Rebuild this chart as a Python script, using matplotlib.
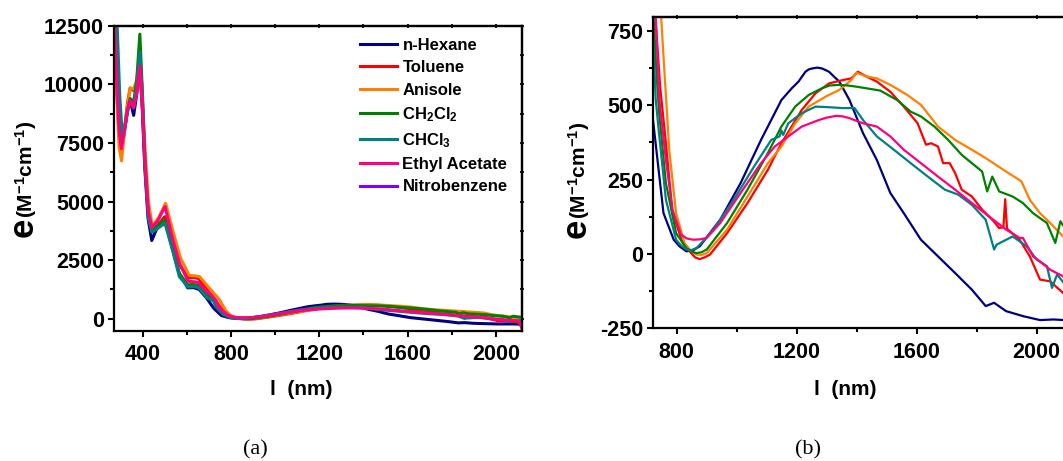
import matplotlib
matplotlib.use('Agg')
import matplotlib.pyplot as plt
from matplotlib.ticker import MultipleLocator

plt.rcParams['font.family'] = ['Liberation Sans', 'DejaVu Sans']
plt.rcParams['font.weight'] = 'bold'
plt.rcParams['mathtext.fontset'] = 'custom'
plt.rcParams['mathtext.rm'] = 'Liberation Sans:bold'
plt.rcParams['mathtext.bf'] = 'Liberation Sans:bold'
plt.rcParams['mathtext.it'] = 'Liberation Sans:bold'
plt.rcParams['mathtext.default'] = 'rm'
plt.rcParams['axes.unicode_minus'] = False

# ---------------- data (wavelength nm, epsilon M^-1 cm^-1) ----------------
wl_hexane = [267, 272, 281, 292, 302, 315, 330, 342, 358, 372,
             384, 395, 408, 423, 440, 465, 498, 533, 564, 603,
             630, 655, 689, 721, 756, 790, 809, 832, 854, 877,
             945, 1013, 1081, 1149, 1183, 1206, 1229, 1240, 1251, 1268,
             1285, 1308, 1319, 1342, 1376, 1421, 1467, 1512, 1557, 1614,
             1671, 1728, 1784, 1830, 1858, 1898, 1955, 2011, 2056, 2090,
             2120]
eps_hexane = [14000, 12600, 10000, 7800, 7120, 7900, 8900, 9320, 8680, 9600,
              11000, 9400, 6500, 4300, 3340, 3900, 4330, 3090, 1950, 1320,
              1330, 1250, 880, 450, 137, 48, 26, 9, 12, 26,
              115, 238, 383, 517, 556, 579, 612, 620, 623, 626,
              623, 612, 601, 579, 517, 406, 316, 205, 137, 48,
              -8, -64, -120, -175, -164, -192, -209, -222, -220, -222,
              -240]

wl_toluene = [267, 272, 281, 292, 302, 315, 330, 342, 358, 372,
              386, 396, 409, 424, 441, 467, 500, 536, 567, 606,
              633, 652, 690, 710, 730, 745, 764, 786, 820, 848,
              862, 877, 892, 911, 968, 1036, 1104, 1149, 1183, 1217,
              1263, 1308, 1353, 1382, 1404, 1433, 1467, 1512, 1557, 1603,
              1631, 1648, 1671, 1688, 1710, 1728, 1750, 1784, 1818, 1852,
              1875, 1889, 1895, 1901, 1943, 1977, 2011, 2045, 2088, 2120]
eps_toluene = [14200, 12600, 10100, 7900, 7050, 8000, 9200, 9850, 9740, 10000,
               10600, 9300, 6800, 4700, 3800, 4000, 4360, 3300, 2300, 1740,
               1760, 1720, 1250, 1000, 780, 560, 372, 137, 37, 3,
               -12, -17, -12, -2, 70, 171, 283, 372, 428, 484,
               540, 573, 584, 590, 612, 596, 579, 545, 495, 439,
               367, 372, 361, 305, 305, 272, 216, 193, 149, 115,
               87, 90, 184, 85, 48, -8, -86, -92, -131, -160]

wl_anisole = [267, 272, 281, 292, 303, 315, 330, 342, 358, 372,
              386, 396, 410, 425, 442, 470, 503, 540, 570, 610,
              635, 657, 697, 730, 748, 758, 766, 775, 798, 826,
              846, 866, 883, 900, 968, 1036, 1104, 1149, 1195, 1240,
              1297, 1342, 1382, 1399, 1433, 1467, 1512, 1569, 1614, 1671,
              1728, 1784, 1830, 1898, 1949, 1977, 2011, 2045, 2088, 2120]
eps_anisole = [14000, 12300, 9600, 7300, 6740, 7900, 9100, 9850, 9800, 10200,
               11440, 9700, 7200, 5000, 3950, 4300, 4930, 3600, 2600, 1850,
               1830, 1800, 1350, 1000, 800, 629, 500, 350, 137, 37,
               12, -2, -3, 3, 82, 193, 305, 361, 439, 495,
               529, 551, 584, 609, 596, 590, 568, 534, 501, 428,
               383, 350, 322, 277, 244, 182, 137, 104, 59, 30]

wl_ch2cl2 = [267, 272, 281, 292, 303, 315, 330, 342, 358, 372,
             386, 396, 409, 424, 441, 466, 498, 533, 564, 603,
             630, 652, 690, 710, 724, 733, 741, 764, 798, 832,
             849, 866, 883, 900, 968, 1036, 1104, 1149, 1195, 1240,
             1285, 1310, 1342, 1370, 1399, 1478, 1535, 1580, 1614, 1659,
             1705, 1750, 1784, 1818, 1835, 1852, 1875, 1920, 1954, 1988,
             2034, 2062, 2079, 2090, 2120]
eps_ch2cl2 = [14500, 12900, 10500, 8300, 7600, 8000, 8900, 9400, 9250, 10200,
              12150, 10000, 6600, 4400, 3700, 3950, 4220, 3000, 1950, 1450,
              1460, 1420, 1050, 880, 780, 600, 480, 238, 70, 20,
              8, 3, 6, 15, 104, 216, 339, 428, 495, 534,
              557, 566, 568, 566, 562, 549, 517, 478, 462, 428,
              383, 333, 305, 277, 210, 260, 210, 193, 171, 137,
              104, 37, 110, 93, 60]

wl_chcl3 = [267, 276, 284, 295, 306, 318, 330, 342, 358, 372,
            386, 396, 410, 425, 441, 466, 500, 535, 565, 605,
            632, 652, 690, 720, 730, 741, 764, 798, 815, 832,
            849, 866, 890, 922, 990, 1058, 1115, 1143, 1149, 1155,
            1172, 1217, 1263, 1308, 1353, 1393, 1421, 1467, 1524, 1580,
            1637, 1694, 1739, 1784, 1830, 1858, 1866, 1920, 1966, 2000,
            2034, 2051, 2068, 2090, 2120]
eps_chcl3 = [16000, 14000, 12300, 9500, 7900, 8200, 8800, 9300, 9000, 10000,
             11370, 9800, 6600, 4300, 3700, 3850, 4080, 2900, 1800, 1350,
             1370, 1330, 900, 760, 520, 406, 182, 48, 28, 15,
             13, 20, 45, 82, 182, 294, 383, 395, 415, 400,
             439, 473, 495, 493, 490, 490, 450, 395, 350, 305,
             260, 216, 199, 165, 115, 15, 31, 59, 26, -19,
             -41, -114, -69, -97, -60]

wl_etac = [267, 272, 281, 292, 302, 315, 330, 342, 358, 372,
           386, 396, 409, 424, 441, 468, 500, 535, 566, 605,
           632, 652, 690, 712, 730, 742, 764, 786, 814, 834,
           854, 877, 900, 945, 1013, 1081, 1127, 1172, 1217, 1274,
           1300, 1331, 1355, 1376, 1421, 1467, 1512, 1557, 1614, 1671,
           1728, 1784, 1841, 1898, 1943, 1954, 1988, 2011, 2045, 2088,
           2105, 2120]
eps_etac = [14200, 12700, 10200, 8000, 7260, 8000, 8900, 9320, 9000, 9600,
            10800, 9400, 6700, 4600, 3900, 4200, 4790, 3400, 2350, 1600,
            1580, 1540, 1150, 1000, 800, 520, 316, 149, 65, 52,
            48, 49, 54, 104, 205, 305, 361, 395, 428, 450,
            458, 464, 462, 456, 439, 428, 395, 350, 305, 260,
            216, 171, 126, 82, 54, 54, -8, -25, -53, -75,
            -110, -450]

wl_nitro = []
eps_nitro = []

solvents = ['n-Hexane', 'Toluene', 'Anisole', 'CH$_2$Cl$_2$', 'CHCl$_3$',
            'Ethyl Acetate', 'Nitrobenzene']
colors = ['#000080', '#FF0000', '#FF8000', '#008000', '#008080',
          '#FF0080', '#8000FF']
wls = [wl_hexane, wl_toluene, wl_anisole, wl_ch2cl2, wl_chcl3, wl_etac, wl_nitro]
epss = [eps_hexane, eps_toluene, eps_anisole, eps_ch2cl2, eps_chcl3, eps_etac, eps_nitro]

# ---------------- figure ----------------
W, H = 1063, 461
fig = plt.figure(figsize=(W / 100, H / 100), dpi=100)

def px_axes(x0, y0, x1, y1):
    return [x0 / W, 1 - y1 / H, (x1 - x0) / W, (y1 - y0) / H]

axA = fig.add_axes(px_axes(113.6, 25.9, 522.3, 330.5))
axB = fig.add_axes(px_axes(652.7, 17.3, 1072.7, 328.4))

handles = []
for name, c, x, y in zip(solvents, colors, wls, epss):
    h, = axA.plot(x, y, color=c, lw=2.2, label=name, solid_joinstyle='round')
    handles.append(h)
    axB.plot(x, y, color=c, lw=1.6, solid_joinstyle='round')

axA.set_xlim(267, 2120)
axA.set_ylim(-500, 12500)
axA.xaxis.set_major_locator(MultipleLocator(400))
axA.xaxis.set_minor_locator(MultipleLocator(200))
axA.yaxis.set_major_locator(MultipleLocator(2500))
axA.yaxis.set_minor_locator(MultipleLocator(1250))

axB.set_xlim(720, 2120)
axB.set_ylim(-250, 795)
axB.xaxis.set_major_locator(MultipleLocator(400))
axB.xaxis.set_minor_locator(MultipleLocator(200))
axB.yaxis.set_major_locator(MultipleLocator(250))
axB.yaxis.set_minor_locator(MultipleLocator(125))

for ax in (axA, axB):
    for s in ax.spines.values():
        s.set_linewidth(1.6)
    ax.tick_params(axis='both', which='major', direction='out', length=4.5,
                   width=1.5, labelsize=15.5, pad=2.5)
    ax.tick_params(axis='both', which='minor', direction='out', length=3,
                   width=1.5)
    ax.tick_params(axis='x', which='major', pad=5)
    sx = ax.secondary_xaxis('top')
    sy = ax.secondary_yaxis('right')
    for sec, loc in ((sx, 'top'), (sy, 'right')):
        sec.tick_params(which='both', direction='inout', length=2.5, width=1.2,
                        labeltop=False, labelright=False, labelbottom=False,
                        labelleft=False)
        sec.spines[loc].set_linewidth(1.6)
    sx.xaxis.set_major_locator(ax.xaxis.get_major_locator())
    sx.xaxis.set_minor_locator(ax.xaxis.get_minor_locator())
    sy.yaxis.set_major_locator(ax.yaxis.get_major_locator())
    sy.yaxis.set_minor_locator(ax.yaxis.get_minor_locator())

axA.legend(handles, solvents, loc='upper left',
           bbox_to_anchor=(360 / W, 1 - 38 / H), bbox_transform=fig.transFigure,
           frameon=False, fontsize=12, handlelength=2.2, handletextpad=0.35,
           labelspacing=0.44, borderpad=0, borderaxespad=0)

# axis labels
def ylab(xb, ybottom):
    fig.text(xb / W, 1 - ybottom / H, 'e', fontsize=25, rotation=90,
             rotation_mode='anchor', ha='left', va='baseline')
    fig.text(xb / W, 1 - (ybottom - 19.5) / H, '(M$^{-1}$cm$^{-1}$)', fontsize=15,
             rotation=90, rotation_mode='anchor', ha='left', va='baseline')

ylab(33, 237)
ylab(586, 238)

fig.text(301 / W, 1 - 389 / H, 'l  (nm)', fontsize=15, ha='center', va='center')
fig.text(845 / W, 1 - 389 / H, 'l  (nm)', fontsize=15, ha='center', va='center')

fig.text(255 / W, 1 - 450 / H, '(a)', family=['Liberation Serif', 'DejaVu Serif'],
         weight='normal', fontsize=16, ha='center', va='center')
fig.text(808 / W, 1 - 450 / H, '(b)', family=['Liberation Serif', 'DejaVu Serif'],
         weight='normal', fontsize=16, ha='center', va='center')

fig.savefig('out.png', dpi=100)
